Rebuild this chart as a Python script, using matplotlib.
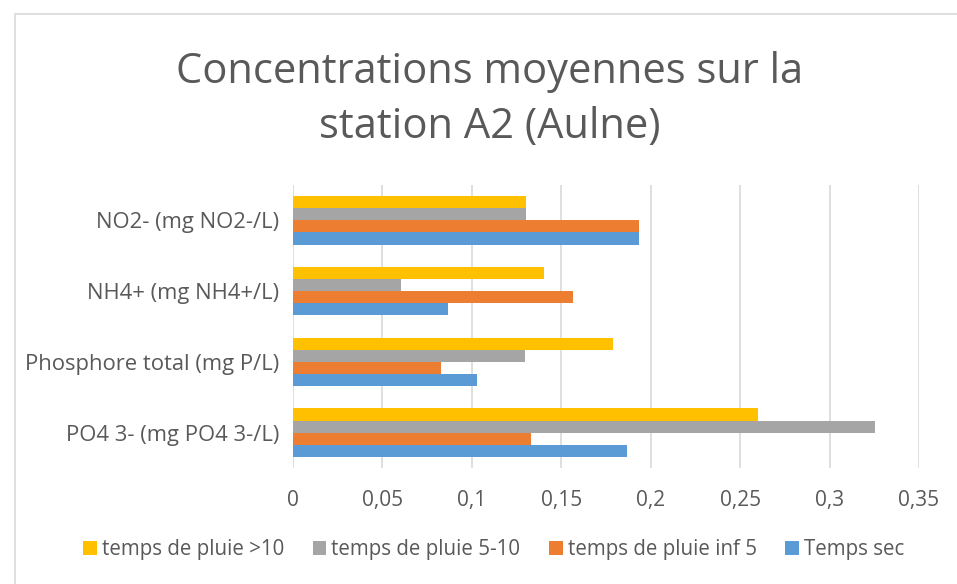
import numpy as np
import matplotlib.pyplot as plt
from matplotlib.patches import Rectangle

# catégories (de bas en haut, comme dans Excel)
categories = ["PO4 3- (mg PO4 3-/L)", "Phosphore total (mg P/L)",
              "NH4+ (mg NH4+/L)", "NO2- (mg NO2-/L)"]

# séries
temps_sec = [0.1866, 0.1031, 0.0868, 0.1936]
pluie_inf5 = [0.1331, 0.0828, 0.1567, 0.1936]
pluie_5_10 = [0.3253, 0.1299, 0.0602, 0.1300]
pluie_sup10 = [0.2602, 0.1788, 0.1403, 0.1300]

series_names = ["Temps sec", "temps de pluie inf 5",
                "temps de pluie 5-10", "temps de pluie >10"]
series_vals = [temps_sec, pluie_inf5, pluie_5_10, pluie_sup10]
colors = ["#5B9BD5", "#ED7D31", "#A5A5A5", "#FFC000"]

xticks = [0, 0.05, 0.1, 0.15, 0.2, 0.25, 0.3, 0.35]
xticklabels = ["0", "0,05", "0,1", "0,15", "0,2", "0,25", "0,3", "0,35"]

plt.rcParams['font.family'] = ['Open Sans', 'DejaVu Sans']
txt = "#595959"

fig = plt.figure(figsize=(9.57, 5.84), dpi=100)
W, H = 957, 584
ax = fig.add_axes([293 / W, 1 - 468 / H, (919 - 293) / W, (468 - 185) / H])

# bordure du graphique
fig.patches.append(Rectangle((15 / W, -0.01), 1.0, 1 - 14 / H + 0.01,
                             transform=fig.transFigure, fill=False,
                             edgecolor="#D9D9D9", lw=1.2))

y = np.arange(len(categories))
h = 0.171
for i, (name, vals, c) in enumerate(zip(series_names, series_vals, colors)):
    ax.barh(y + (i - 1.5) * h, vals, height=h, color=c, label=name)

ax.set_xlim(0, 0.35)
ax.set_ylim(-0.5, len(categories) - 0.5)
ax.set_xticks(xticks)
ax.set_xticklabels(xticklabels)
ax.set_yticks(y)
ax.set_yticklabels(categories)
ax.tick_params(length=0, colors=txt)
ax.tick_params(axis='y', labelsize=15.8, pad=10)
ax.tick_params(axis='x', labelsize=15, pad=16)
ax.grid(axis='x', color="#D9D9D9", lw=1.2)
ax.set_axisbelow(True)
for s in ax.spines.values():
    s.set_visible(False)

fig.text(490 / W, 1 - 72 / H, "Concentrations moyennes sur la", ha='center',
         va='center', fontsize=30, color=txt)
fig.text(490 / W, 1 - 127 / H, "station A2 (Aulne)", ha='center',
         va='center', fontsize=30, color=txt)

handles, labels = ax.get_legend_handles_labels()
fig.legend(handles[::-1], labels[::-1], loc='center', ncol=4,
           bbox_to_anchor=(0.516, 1 - 550 / H), frameon=False, fontsize=14.8,
           labelcolor=txt, handlelength=0.65, handleheight=0.65,
           handletextpad=0.25, columnspacing=1.4)

fig.savefig("out.png", dpi=100)
